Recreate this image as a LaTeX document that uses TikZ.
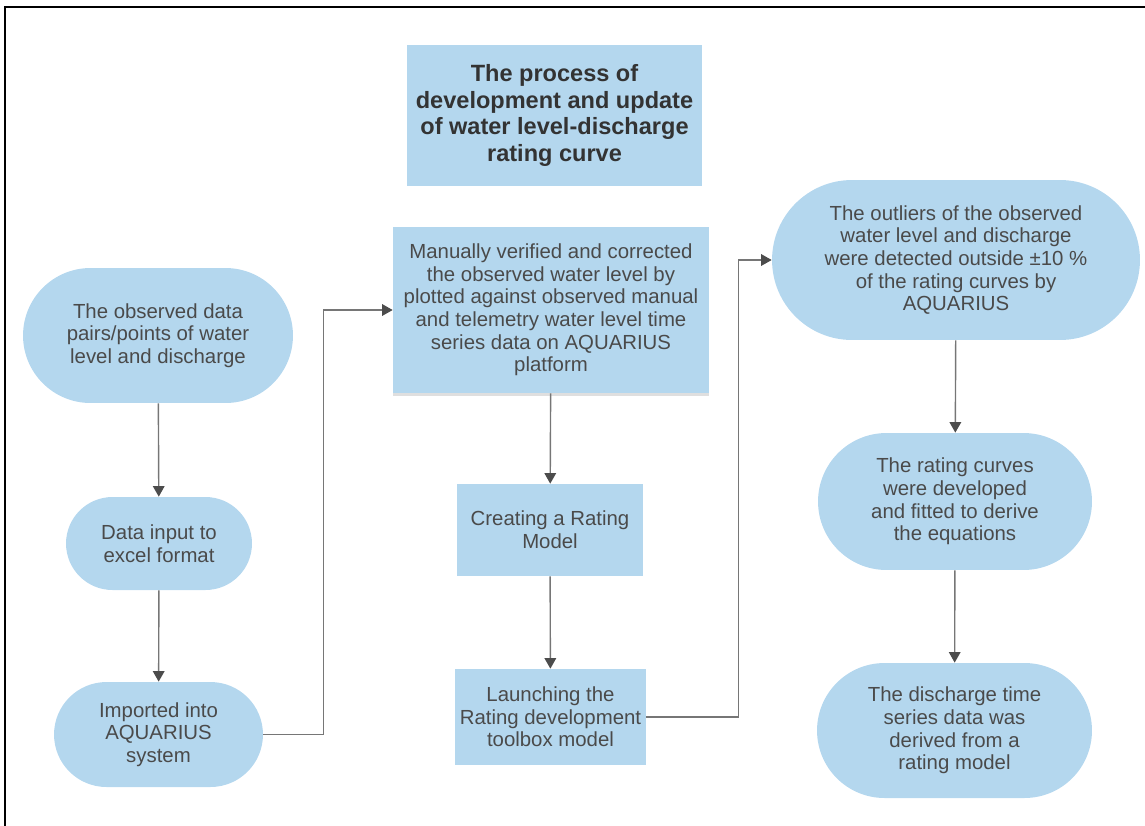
\documentclass[tikz,border=0pt]{standalone}
\usepackage{fontspec}
\setmainfont{Liberation Sans}
\usepackage{xcolor}
\usetikzlibrary{shapes.misc,arrows.meta,shadows}

\definecolor{boxblue}{HTML}{B4D7EE}
\definecolor{txtgray}{HTML}{4A4A4A}
\definecolor{linegray}{HTML}{767676}

\begin{document}
\begin{tikzpicture}[x=0.02cm, y=-0.02cm,
        every node/.style={text=txtgray, align=center, inner sep=0pt,
            font=\fontsize{11.6}{12.9}\selectfont},
        pill/.style={rounded rectangle, fill=boxblue},
        box/.style={rectangle, fill=boxblue},
        link/.style={draw=linegray, line width=0.8pt,
            -{Triangle[length=2.1mm, width=2.3mm, color=black!70]}}]
        \useasboundingbox (0, 0) rectangle (1145, 825);
        \draw [line width=0.04cm] (5, 830) -- (5, 7) -- (1150, 7);

        \node (title) at (554.5, 115.5) [box, minimum width=5.9cm, minimum height=2.82cm,
            text=black!80, font=\fontsize{13.4}{15.1}\selectfont\bfseries]
            {The process of\\development and update\\of water level-discharge\\rating curve};

        \node (1) at (158, 335.5) [pill, minimum width=5.4cm, minimum height=2.7cm]
            {The observed data\\pairs/points of water\\level and discharge};
        \node (2) at (159, 543.5) [pill, minimum width=3.72cm, minimum height=1.86cm]
            {Data input to\\excel format};
        \node (3) at (158.5, 734.5) [pill, minimum width=4.18cm, minimum height=2.1cm]
            {Imported into\\AQUARIUS\\system};
        \node (4) at (551, 310) [box, minimum width=6.32cm, minimum height=3.32cm,
            drop shadow={shadow xshift=0pt, shadow yshift=-1.5pt, opacity=0.25}]
            {Manually verified and corrected\\the observed water level by\\plotted against observed manual\\and telemetry water level time\\series data on AQUARIUS\\platform};
        \node (5) at (550, 530) [box, minimum width=3.72cm, minimum height=1.84cm]
            {Creating a Rating\\Model};
        \node (6) at (550.5, 717) [box, minimum width=3.82cm, minimum height=1.92cm]
            {Launching the\\Rating development\\toolbox model};
        \node (7) at (956, 260) [pill, minimum width=7.36cm, minimum height=3.2cm]
            {The outliers of the observed\\water level and discharge\\were detected outside ±10 \%\\of the rating curves by\\AQUARIUS};
        \node (8) at (955, 501.5) [pill, minimum width=5.48cm, minimum height=2.74cm]
            {The rating curves\\were developed\\and fitted to derive\\the equations};
        \node (9) at (954.5, 730.5) [pill, minimum width=5.5cm, minimum height=2.7cm]
            {The discharge time\\series data was\\derived from a\\rating model};

        \draw [link] (1) -- (2);
        \draw [link] (2) -- (3);
        \draw [link] (3.east) -- ++(60, 0) |- (4.west);
        \draw [link] (4) -- (5);
        \draw [link] (5) -- (6);
        \draw [link] (6.east) -- ++(92, 0) |- (7.west);
        \draw [link] (7) -- (8);
        \draw [link] (8) -- (9);
    \end{tikzpicture}
\end{document}
